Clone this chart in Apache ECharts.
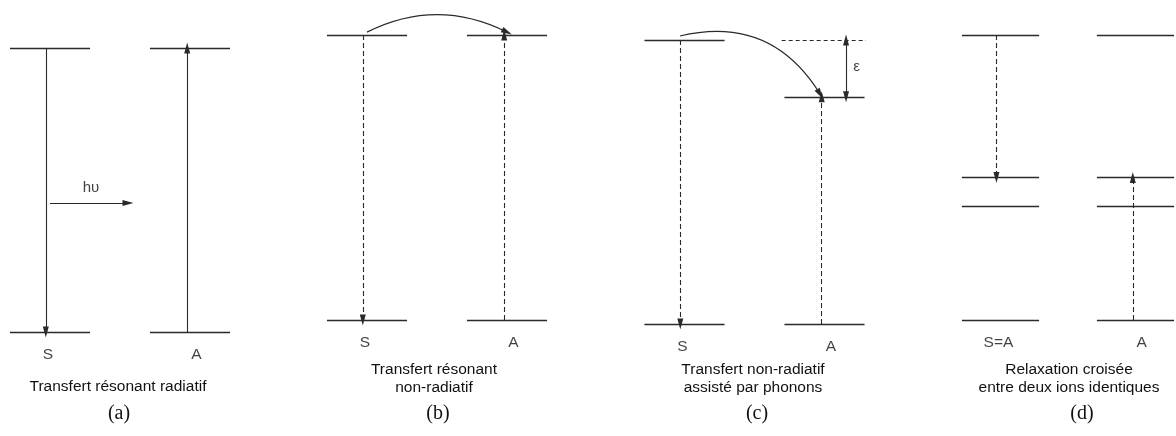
<!DOCTYPE html>
<html><head><meta charset="utf-8">
<script src="https://cdn.jsdelivr.net/npm/echarts@6/dist/echarts.min.js"></script>
<style>html,body{margin:0;padding:0;background:#fff}#c{width:1176px;height:436px}</style>
</head><body><div id="c"></div>
<script>
// ---------------- data ----------------
const panelTags = ['(a)', '(b)', '(c)', '(d)'];
const captions = [
  ['Transfert résonant radiatif'],
  ['Transfert résonant', 'non-radiatif'],
  ['Transfert non-radiatif', 'assisté par phonons'],
  ['Relaxation croisée', 'entre deux ions identiques']
];
const ionNames = [['S', 'A'], ['S', 'A'], ['S', 'A'], ['S=A', 'A']];
// relative energy levels (ground = 0, upper level of S = 1); ion S at x = 0, ion A at x = 1
const levelsS = [[0, 1], [0, 1], [0, 1], [0, 0.4, 0.5, 1]];
const levelsA = [[0, 1], [0, 1], [0, 0.8], [0, 0.4, 0.5, 1]];
// de-excitation of S [from, to] and excitation of A [from, to]
const decayS = [[1, 0], [1, 0], [1, 0], [1, 0.5]];
const exciteA = [[0, 1], [0, 1], [0, 0.8], [0, 0.5]];
const transitionDashed = [false, true, true, true];
// non-radiative transfer arcs S -> A : [fromE, toE]
const transferArc = [null, [1.01, 1.01], [1.014, 0.81], null];
// panel (c): energy of S reported over ion A, mismatch epsilon
const virtualA = [null, null, 1, null];
const epsilonGap = [null, null, [1, 0.8], null];
// panel (a): emitted photon
const photonE = 0.454;
const photonX = [0, 0.557];

// ---------------- layout (pixels / styles) ----------------
const gridLeft = [8, 325, 642.5, 960];
const gridTopY = [48, 35, 40, 35];
const gridBottomY = [332, 320, 324, 320];
const xMin = -0.3, xMax = 1.3, gridW = 224;
const halfW = 0.286;
const dxS = -0.03, dxA = -0.02;
const captionX = [118, 434, 753, 1069];
const tagX = [119, 438, 757, 1082];
const LINE = '#2a2a2a';
const TXT = '#111';
const SANS = 'Liberation Sans, Arial, sans-serif';
const arrowSize = [[6, 11], [6, 11]];
const arrowOff = [[0, 5.5], [0, 5.5]];

const grids = [], xAxes = [], yAxes = [], series = [];
for (let p = 0; p < 4; p++) {
  grids.push({left: gridLeft[p], top: gridTopY[p], width: gridW, height: gridBottomY[p] - gridTopY[p]});
  xAxes.push({gridIndex: p, type: 'value', min: xMin, max: xMax, show: false});
  yAxes.push({gridIndex: p, type: 'value', min: 0, max: 1, show: false});
  const base = {coordinateSystem: 'cartesian2d', xAxisIndex: p, yAxisIndex: p, silent: true, animation: false, clip: false};
  // levels
  const lv = [];
  levelsS[p].forEach(e => lv.push({coords: [[-halfW, e], [halfW, e]]}));
  levelsA[p].forEach(e => lv.push({coords: [[1 - halfW, e], [1 + halfW, e]]}));
  series.push(Object.assign({type: 'lines', symbol: 'none', lineStyle: {color: LINE, width: 1.3, opacity: 1}, data: lv}, base));
  if (virtualA[p] !== null) {
    series.push(Object.assign({type: 'lines', symbol: 'none', lineStyle: {color: LINE, width: 1, type: [4, 3], opacity: 1},
      data: [{coords: [[1 - halfW - 0.02, virtualA[p]], [1 + halfW + 0.01, virtualA[p]]]}]}, base));
  }
  // transitions
  series.push(Object.assign({type: 'lines', symbol: ['none', 'triangle'], symbolSize: arrowSize, symbolOffset: arrowOff,
    lineStyle: {color: LINE, width: 1.1, type: transitionDashed[p] ? [5, 3] : 'solid', opacity: 1},
    data: [
      {coords: [[dxS, decayS[p][0]], [dxS, decayS[p][1]]]},
      {coords: [[1 + dxA, exciteA[p][0]], [1 + dxA, exciteA[p][1]]]}
    ]}, base));
  if (transferArc[p]) {
    const a = transferArc[p];
    series.push(Object.assign({type: 'lines', symbol: ['none', 'triangle'], symbolSize: arrowSize, symbolOffset: arrowOff,
      lineStyle: {color: LINE, width: 1.2, curveness: p === 1 ? 0.25 : 0.36, opacity: 1},
      data: [{coords: [[p === 1 ? 0 : -0.032, a[0]], [p === 1 ? 1.0 : 0.968, a[1]]]}]}, base));
  }
  if (epsilonGap[p]) {
    series.push(Object.assign({type: 'lines', symbol: ['triangle', 'triangle'], symbolSize: arrowSize, symbolOffset: arrowOff,
      lineStyle: {color: LINE, width: 1.1, opacity: 1},
      data: [{coords: [[1.154, epsilonGap[p][0]], [1.154, epsilonGap[p][1]]]}]}, base));
    series.push(Object.assign({type: 'scatter', symbolSize: 0,
      label: {show: true, position: 'inside', formatter: 'ε', color: TXT, fontSize: 15, fontFamily: SANS},
      data: [[1.23, (epsilonGap[p][0] + epsilonGap[p][1]) / 2 + 0.005]]}, base));
  }
  if (p === 0) {
    series.push(Object.assign({type: 'lines', symbol: ['none', 'triangle'], symbolSize: arrowSize, symbolOffset: arrowOff,
      lineStyle: {color: LINE, width: 1.1, opacity: 1},
      data: [{coords: [[photonX[0], photonE], [photonX[1], photonE]]}]}, base));
    series.push(Object.assign({type: 'scatter', symbolSize: 0,
      label: {show: true, position: 'inside', formatter: 'hυ', color: TXT, fontSize: 15, fontFamily: SANS},
      data: [[0.293, 0.507]]}, base));
  }
  // ion names
  series.push(Object.assign({type: 'scatter', symbolSize: 0,
    label: {show: true, position: 'inside', formatter: prm => prm.value[2], color: TXT, fontSize: 15.5, fontFamily: SANS},
    data: [[-0.015, -0.08, ionNames[p][0]], [1.045, -0.08, ionNames[p][1]]]}, base));
}

const graphics = [];
for (let p = 0; p < 4; p++) {
  const lines = captions[p];
  const y0 = lines.length === 1 ? 387 : 369.5;
  lines.forEach((t, i) => graphics.push({type: 'text', x: captionX[p], y: y0 + i * 18.5, silent: true,
    style: {text: t, font: '15.5px ' + SANS, fill: TXT, textAlign: 'center', textVerticalAlign: 'middle'}}));
  graphics.push({type: 'text', x: tagX[p], y: 414, silent: true,
    style: {text: panelTags[p], font: '20px "Liberation Serif", "DejaVu Serif", serif', fill: TXT, textAlign: 'center', textVerticalAlign: 'middle'}});
}

const chart = echarts.init(document.getElementById('c'), null, {renderer: 'canvas'});
chart.setOption({
  backgroundColor: '#fff',
  animation: false,
  grid: grids, xAxis: xAxes, yAxis: yAxes,
  series: series,
  graphic: graphics
});
</script></body></html>
